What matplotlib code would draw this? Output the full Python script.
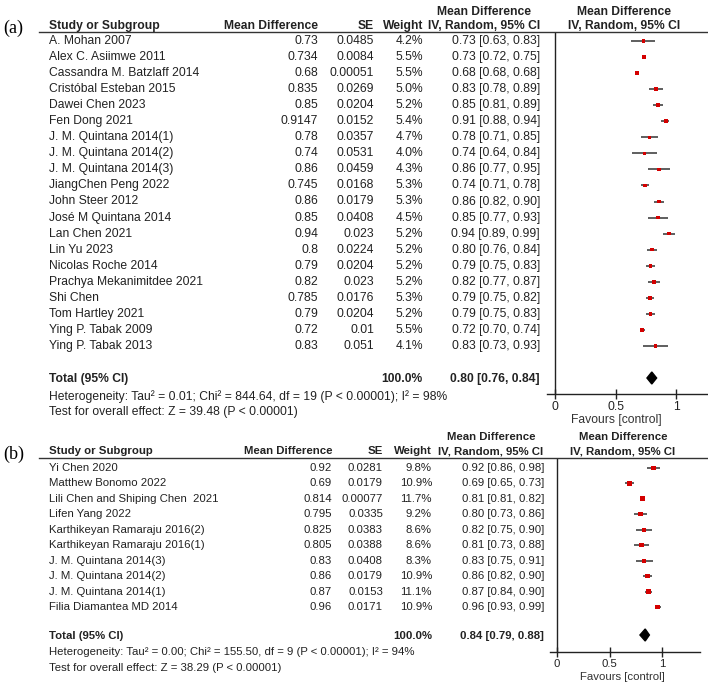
import numpy as np
import matplotlib
matplotlib.use("Agg")
import matplotlib.pyplot as plt

plt.rcParams['font.family'] = ['Liberation Sans', 'DejaVu Sans']

W, H = 708, 687

# ---- panel (a) data ----
names_a = ["A. Mohan 2007", "Alex C. Asiimwe 2011", "Cassandra M. Batzlaff 2014",
           "Cristóbal Esteban 2015", "Dawei Chen 2023", "Fen Dong 2021",
           "J. M. Quintana 2014(1)", "J. M. Quintana 2014(2)", "J. M. Quintana 2014(3)",
           "JiangChen Peng 2022", "John Steer 2012", "José M Quintana 2014",
           "Lan Chen 2021", "Lin Yu 2023", "Nicolas Roche 2014",
           "Prachya Mekanimitdee 2021", "Shi Chen", "Tom Hartley 2021",
           "Ying P. Tabak 2009", "Ying P. Tabak 2013"]
md_a = [0.73, 0.734, 0.68, 0.835, 0.85, 0.9147, 0.78, 0.74, 0.86, 0.745,
        0.86, 0.85, 0.94, 0.8, 0.79, 0.82, 0.785, 0.79, 0.72, 0.83]
se_a = [0.0485, 0.0084, 0.00051, 0.0269, 0.0204, 0.0152, 0.0357, 0.0531, 0.0459, 0.0168,
        0.0179, 0.0408, 0.023, 0.0224, 0.0204, 0.023, 0.0176, 0.0204, 0.01, 0.051]
wt_a = [4.2, 5.5, 5.5, 5.0, 5.2, 5.4, 4.7, 4.0, 4.3, 5.3,
        5.3, 4.5, 5.2, 5.2, 5.2, 5.2, 5.3, 5.2, 5.5, 4.1]
lo_a = [0.63, 0.72, 0.68, 0.78, 0.81, 0.88, 0.71, 0.64, 0.77, 0.71,
        0.82, 0.77, 0.89, 0.76, 0.75, 0.77, 0.75, 0.75, 0.70, 0.73]
hi_a = [0.83, 0.75, 0.68, 0.89, 0.89, 0.94, 0.85, 0.84, 0.95, 0.78,
        0.90, 0.93, 0.99, 0.84, 0.83, 0.87, 0.82, 0.83, 0.74, 0.93]
total_a = [0.80, 0.76, 0.84]
het_a = "Heterogeneity: Tau² = 0.01; Chi² = 844.64, df = 19 (P < 0.00001); I² = 98%"
test_a = "Test for overall effect: Z = 39.48 (P < 0.00001)"

# ---- panel (b) data ----
names_b = ["Yi Chen 2020", "Matthew Bonomo 2022", "Lili Chen and Shiping Chen  2021",
           "Lifen Yang 2022", "Karthikeyan Ramaraju 2016(2)", "Karthikeyan Ramaraju 2016(1)",
           "J. M. Quintana 2014(3)", "J. M. Quintana 2014(2)", "J. M. Quintana 2014(1)",
           "Filia Diamantea MD 2014"]
md_b = [0.92, 0.69, 0.814, 0.795, 0.825, 0.805, 0.83, 0.86, 0.87, 0.96]
se_b = [0.0281, 0.0179, 0.00077, 0.0335, 0.0383, 0.0388, 0.0408, 0.0179, 0.0153, 0.0171]
wt_b = [9.8, 10.9, 11.7, 9.2, 8.6, 8.6, 8.3, 10.9, 11.1, 10.9]
lo_b = [0.86, 0.65, 0.81, 0.73, 0.75, 0.73, 0.75, 0.82, 0.84, 0.93]
hi_b = [0.98, 0.73, 0.82, 0.86, 0.90, 0.88, 0.91, 0.90, 0.90, 0.99]
total_b = [0.84, 0.79, 0.88]
het_b = "Heterogeneity: Tau² = 0.00; Chi² = 155.50, df = 9 (P < 0.00001); I² = 94%"
test_b = "Test for overall effect: Z = 38.29 (P < 0.00001)"

ticks = [0, 0.5, 1]
TXT = '#222222'


def fx(x):
    return x / W


def fy(y):
    return 1 - y / H


def draw_panel(fig, label, names, md, se, wt, lo, hi, total, het, test, g):
    fs = g['fs']
    t = lambda x, y, s, **kw: fig.text(fx(x), fy(y), s, va='center', color=TXT,
                                       fontsize=kw.pop('fs', fs), **kw)
    # panel label
    fig.text(fx(3), fy(g['label_y']), label, family='Liberation Serif',
             fontsize=13, va='center', ha='left', color='black')

    # headers
    t(g['name_x'], g['h2'], "Study or Subgroup", weight='bold')
    t(g['md_x'], g['h2'], "Mean Difference", weight='bold', ha='right')
    t(g['se_x'], g['h2'], "SE", weight='bold', ha='right')
    t(g['wt_x'], g['h2'], "Weight", weight='bold', ha='right')
    t(g['cih_x'], g['h1'], "Mean Difference", weight='bold', ha='center')
    t(g['cih_x'], g['h2'], "IV, Random, 95% CI", weight='bold', ha='center')
    t(g['plh_x'], g['h1'], "Mean Difference", weight='bold', ha='center')
    t(g['plh_x'], g['h2'], "IV, Random, 95% CI", weight='bold', ha='center')
    fig.add_artist(plt.Line2D([fx(39), fx(708)], [fy(g['line_y'])] * 2,
                              color='#333333', lw=1.0))

    rows = [g['row0'] + g['step'] * i for i in range(len(names))]
    for y, n, m, s, w, l, h in zip(rows, names, md, se, wt, lo, hi):
        t(g['name_x'], y, n)
        t(g['md_x'], y, str(m), ha='right')
        t(g['se_x'], y, str(s), ha='right')
        t(g['wt_x'], y, f"{w:.1f}%", ha='right')
        t(g['ci_x'], y, f"{m:.2f} [{l:.2f}, {h:.2f}]", ha='right')

    # total and footnotes
    t(g['name_x'], g['tot_y'], "Total (95% CI)", weight='bold')
    t(g['wt_x'], g['tot_y'], "100.0%", weight='bold', ha='right')
    t(g['ci_x'], g['tot_y'], f"{total[0]:.2f} [{total[1]:.2f}, {total[2]:.2f}]",
      weight='bold', ha='right')
    t(g['name_x'], g['het_y'], het)
    t(g['name_x'], g['test_y'], test)

    # forest plot area, y in pixel units
    x0, sc = g['x0'], g['scale']
    left, right = g['ax_l'], g['ax_r']
    top, bot = g['line_y'], g['axis_y']
    ax = fig.add_axes([fx(left), fy(bot), (right - left) / W, (bot - top) / H])
    ax.set_xlim((left - x0) / sc, (right - x0) / sc)
    ax.set_ylim(bot, top)
    ax.patch.set_alpha(0)
    for sp in ['top', 'right', 'left']:
        ax.spines[sp].set_visible(False)
    ax.spines['bottom'].set_color('#222222')
    ax.spines['bottom'].set_linewidth(1.0)
    ax.axvline(0, color='#222222', lw=1.0)
    ax.set_yticks([])
    ax.set_xticks(ticks)
    ax.set_xticklabels(['0', '0.5', '1'])
    ax.tick_params(axis='x', direction='inout', length=7, width=1.0,
                   colors='#222222', labelsize=fs, pad=1.5)

    ax.hlines(rows, lo, hi, color='#333333', lw=1.1)
    ax.scatter(md, rows, s=[1.3 * w * g['msz'] for w in wt], marker='s',
               color='#d40000', zorder=3, linewidths=0)
    ty = g['tot_y'] - 1
    dh = g['dia_h']
    ax.fill([total[1], total[0], total[2], total[0]],
            [ty, ty - dh, ty, ty + dh], color='black', zorder=4)

    fig.text(fx(g['fav_x']), fy(g['fav_y']), "Favours [control]", ha='center',
             va='center', fontsize=fs, color='#333333')


fig = plt.figure(figsize=(W / 100, H / 100), dpi=100)

geom_a = dict(fs=8.7, label_y=28, h1=12, h2=26, line_y=32, row0=41, step=16.05,
              tot_y=379, het_y=397, test_y=412, name_x=49, md_x=318, se_x=374,
              wt_x=423, ci_x=540, cih_x=484, plh_x=624, x0=555, scale=121,
              ax_l=547, ax_r=707, axis_y=394, fav_x=616, fav_y=420, dia_h=6, msz=1.0)
geom_b = dict(fs=8.2, label_y=454, h1=437, h2=451, line_y=458, row0=468, step=15.45,
              tot_y=636, het_y=652, test_y=668, name_x=49, md_x=332, se_x=383,
              wt_x=432, ci_x=544, cih_x=491, plh_x=623, x0=557, scale=105,
              ax_l=550, ax_r=700, axis_y=652, fav_x=622, fav_y=677, dia_h=6, msz=0.8)

draw_panel(fig, "(a)", names_a, md_a, se_a, wt_a, lo_a, hi_a, total_a, het_a, test_a, geom_a)
draw_panel(fig, "(b)", names_b, md_b, se_b, wt_b, lo_b, hi_b, total_b, het_b, test_b, geom_b)

fig.savefig("out.png", dpi=100)
